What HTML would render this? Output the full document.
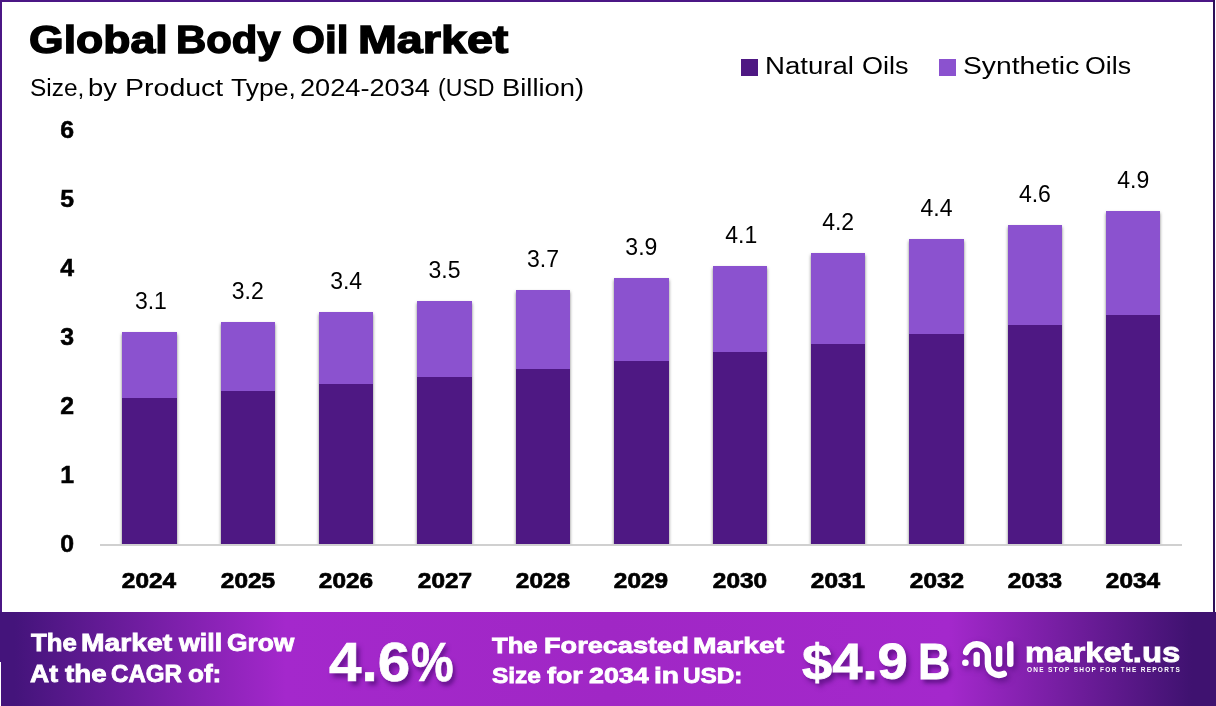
<!DOCTYPE html>
<html><head><meta charset="utf-8"><title>Global Body Oil Market</title>
<style>
html,body{margin:0;padding:0;background:#fff;}
body{width:1216px;height:706px;position:relative;overflow:hidden;font-family:"Liberation Sans",sans-serif;color:#000;}
.abs{position:absolute;white-space:nowrap;line-height:1;transform-origin:0 0;}
.frame{position:absolute;left:0;top:0;width:1213px;height:612px;box-sizing:border-box;border-top:2px solid #4b1785;border-left:2px solid #4b1785;}
.rb{position:absolute;left:1213px;top:0;width:2px;height:612px;background:#2e1058;}
.b{font-weight:bold;}
.yl{width:40px;text-align:right;left:34px;font-weight:bold;font-size:23px;-webkit-text-stroke:0.5px #000;transform-origin:100% 0;transform:scaleX(1.08);}
.xl{width:80px;text-align:center;font-weight:bold;font-size:22.5px;-webkit-text-stroke:0.7px #000;transform-origin:50% 0;transform:scaleX(1.085);}
.dl{width:80px;text-align:center;font-size:23px;transform-origin:50% 0;}
.bar{position:absolute;width:54.4px;box-shadow:0 2px 3px rgba(0,0,0,.5);}
.d{background:#4e1883;}
.l{background:#8b52cf;}
.axis{position:absolute;left:100px;top:544px;width:1082px;height:2px;background:#d0d0d0;}
.lg{position:absolute;width:17px;height:17px;top:59px;}
.banner{position:absolute;left:0;top:612px;width:1216px;height:94px;background:linear-gradient(90deg,#44147b 0%,#44147b 1.2%,#a428cc 23.5%,#a027c5 50%,#a428cc 78%,#3f1270 98%,#3f1270 100%);}
.w{color:#fff;font-weight:bold;}
.big{color:#fff;font-weight:bold;text-shadow:3px 4px 5px rgba(50,0,90,.6);}
</style></head><body>
<div class="frame"></div><div class="rb"></div>
<div class="abs b" id="title_0" style="left:29.37px;top:19.85px;font-size:39.4px;transform:scaleX(1.1307);-webkit-text-stroke:1.4px currentColor;">Global</div>
<div class="abs b" id="title_1" style="left:175.76px;top:19.85px;font-size:39.4px;transform:scaleX(1.0624);-webkit-text-stroke:1.4px currentColor;">Body</div>
<div class="abs b" id="title_2" style="left:291.94px;top:19.85px;font-size:39.4px;transform:scaleX(1.0751);-webkit-text-stroke:1.4px currentColor;">Oil</div>
<div class="abs b" id="title_3" style="left:357.83px;top:19.85px;font-size:39.4px;transform:scaleX(1.1840);-webkit-text-stroke:1.4px currentColor;">Market</div>
<div class="abs " id="sub_0" style="left:29.71px;top:76.73px;font-size:23px;transform:scaleX(1.0639);">Size,</div>
<div class="abs " id="sub_1" style="left:87.65px;top:76.73px;font-size:23px;transform:scaleX(1.1883);">by</div>
<div class="abs " id="sub_2" style="left:124.76px;top:76.73px;font-size:23px;transform:scaleX(1.2400);">Product</div>
<div class="abs " id="sub_3" style="left:230.89px;top:76.73px;font-size:23px;transform:scaleX(1.1551);">Type,</div>
<div class="abs " id="sub_4" style="left:299.71px;top:76.73px;font-size:23px;transform:scaleX(1.1807);">2024-2034</div>
<div class="abs " id="sub_5" style="left:437.95px;top:76.73px;font-size:23px;transform:scaleX(1.0062);">(USD</div>
<div class="abs " id="sub_6" style="left:501.55px;top:76.73px;font-size:23px;transform:scaleX(1.1907);">Billion)</div>
<div class="lg d" style="left:741px"></div>
<div class="abs " id="lt1_0" style="left:765.43px;top:54.91px;font-size:23.5px;transform:scaleX(1.1739);">Natural</div>
<div class="abs " id="lt1_1" style="left:862.48px;top:54.91px;font-size:23.5px;transform:scaleX(1.1499);">Oils</div>
<div class="lg l" style="left:939px"></div>
<div class="abs " id="lt2_0" style="left:963.20px;top:54.91px;font-size:23.5px;transform:scaleX(1.2030);">Synthetic</div>
<div class="abs " id="lt2_1" style="left:1084.78px;top:54.91px;font-size:23.5px;transform:scaleX(1.1370);">Oils</div>
<div class="abs yl" style="top:532.73px">0</div>
<div class="abs yl" style="top:463.83px">1</div>
<div class="abs yl" style="top:394.93px">2</div>
<div class="abs yl" style="top:326.03px">3</div>
<div class="abs yl" style="top:257.13px">4</div>
<div class="abs yl" style="top:188.23px">5</div>
<div class="abs yl" style="top:119.33px">6</div>
<div style="position:absolute;left:0;top:0;width:1213px;height:544px;overflow:hidden">
<div class="bar" style="left:122.20px;top:332px;height:218px"><div class="l" style="height:66px"></div><div class="d" style="height:152px"></div></div>
<div class="bar" style="left:220.59px;top:322px;height:228px"><div class="l" style="height:69px"></div><div class="d" style="height:159px"></div></div>
<div class="bar" style="left:318.98px;top:312px;height:238px"><div class="l" style="height:72px"></div><div class="d" style="height:166px"></div></div>
<div class="bar" style="left:417.37px;top:301px;height:249px"><div class="l" style="height:76px"></div><div class="d" style="height:173px"></div></div>
<div class="bar" style="left:515.76px;top:290px;height:260px"><div class="l" style="height:79px"></div><div class="d" style="height:181px"></div></div>
<div class="bar" style="left:614.15px;top:278px;height:272px"><div class="l" style="height:83px"></div><div class="d" style="height:189px"></div></div>
<div class="bar" style="left:712.54px;top:266px;height:284px"><div class="l" style="height:86px"></div><div class="d" style="height:198px"></div></div>
<div class="bar" style="left:810.93px;top:253px;height:297px"><div class="l" style="height:91px"></div><div class="d" style="height:206px"></div></div>
<div class="bar" style="left:909.32px;top:239px;height:311px"><div class="l" style="height:95px"></div><div class="d" style="height:216px"></div></div>
<div class="bar" style="left:1007.71px;top:225px;height:325px"><div class="l" style="height:100px"></div><div class="d" style="height:225px"></div></div>
<div class="bar" style="left:1106.10px;top:211px;height:339px"><div class="l" style="height:104px"></div><div class="d" style="height:235px"></div></div>
</div>
<div class="axis"></div>
<div class="abs dl" style="left:110.90px;top:289.53px">3.1</div>
<div class="abs xl" style="left:109.40px;top:569.75px">2024</div>
<div class="abs dl" style="left:207.79px;top:279.53px">3.2</div>
<div class="abs xl" style="left:207.79px;top:569.75px">2025</div>
<div class="abs dl" style="left:306.18px;top:269.53px">3.4</div>
<div class="abs xl" style="left:306.18px;top:569.75px">2026</div>
<div class="abs dl" style="left:404.57px;top:258.53px">3.5</div>
<div class="abs xl" style="left:404.57px;top:569.75px">2027</div>
<div class="abs dl" style="left:502.96px;top:247.53px">3.7</div>
<div class="abs xl" style="left:502.96px;top:569.75px">2028</div>
<div class="abs dl" style="left:601.35px;top:235.53px">3.9</div>
<div class="abs xl" style="left:601.35px;top:569.75px">2029</div>
<div class="abs dl" style="left:701.24px;top:223.53px">4.1</div>
<div class="abs xl" style="left:699.74px;top:569.75px">2030</div>
<div class="abs dl" style="left:798.13px;top:210.53px">4.2</div>
<div class="abs xl" style="left:798.13px;top:569.75px">2031</div>
<div class="abs dl" style="left:896.52px;top:196.53px">4.4</div>
<div class="abs xl" style="left:896.52px;top:569.75px">2032</div>
<div class="abs dl" style="left:994.91px;top:182.53px">4.6</div>
<div class="abs xl" style="left:994.91px;top:569.75px">2033</div>
<div class="abs dl" style="left:1093.30px;top:168.53px">4.9</div>
<div class="abs xl" style="left:1093.30px;top:569.75px">2034</div>
<div class="banner"></div>
<div style="position:absolute;left:0;top:662px;width:1px;height:44px;background:#fff"></div>
<div class="abs w" id="b1_0" style="left:30.75px;top:632.03px;font-size:23px;transform:scaleX(1.1179);-webkit-text-stroke:0.8px currentColor;">The</div>
<div class="abs w" id="b1_1" style="left:81.19px;top:632.03px;font-size:23px;transform:scaleX(1.2287);-webkit-text-stroke:0.8px currentColor;">Market</div>
<div class="abs w" id="b1_2" style="left:178.52px;top:632.03px;font-size:23px;transform:scaleX(1.1649);-webkit-text-stroke:0.8px currentColor;">will</div>
<div class="abs w" id="b1_3" style="left:226.75px;top:632.03px;font-size:23px;transform:scaleX(1.1453);-webkit-text-stroke:0.8px currentColor;">Grow</div>
<div class="abs w" id="b2_0" style="left:29.50px;top:662.73px;font-size:23px;transform:scaleX(1.1527);-webkit-text-stroke:0.8px currentColor;">At</div>
<div class="abs w" id="b2_1" style="left:64.77px;top:662.73px;font-size:23px;transform:scaleX(1.2035);-webkit-text-stroke:0.8px currentColor;">the</div>
<div class="abs w" id="b2_2" style="left:111.24px;top:662.73px;font-size:23px;transform:scaleX(1.0482);-webkit-text-stroke:0.8px currentColor;">CAGR</div>
<div class="abs w" id="b2_3" style="left:188.47px;top:662.73px;font-size:23px;transform:scaleX(1.1341);-webkit-text-stroke:0.8px currentColor;">of:</div>
<div class="abs big" id="cagr" style="left:328.68px;top:634.64px;font-size:55px;transform:scaleX(1.0615);-webkit-text-stroke:0.7px currentColor;">4.6</div>
<div class="abs big" id="pct" style="left:411.17px;top:634.64px;font-size:55px;transform:scaleX(0.8715);-webkit-text-stroke:0.7px currentColor;">%</div>
<div class="abs w" id="b3_0" style="left:492.21px;top:634.95px;font-size:22.5px;transform:scaleX(1.1407);-webkit-text-stroke:0.8px currentColor;">The</div>
<div class="abs w" id="b3_1" style="left:544.05px;top:634.95px;font-size:22.5px;transform:scaleX(1.2054);-webkit-text-stroke:0.8px currentColor;">Forecasted</div>
<div class="abs w" id="b3_2" style="left:693.33px;top:634.95px;font-size:22.5px;transform:scaleX(1.2563);-webkit-text-stroke:0.8px currentColor;">Market</div>
<div class="abs w" id="b4_0" style="left:491.66px;top:665.25px;font-size:22.5px;transform:scaleX(1.0871);-webkit-text-stroke:0.8px currentColor;">Size</div>
<div class="abs w" id="b4_1" style="left:546.96px;top:665.25px;font-size:22.5px;transform:scaleX(1.1901);-webkit-text-stroke:0.8px currentColor;">for</div>
<div class="abs w" id="b4_2" style="left:588.91px;top:665.25px;font-size:22.5px;transform:scaleX(1.1936);-webkit-text-stroke:0.8px currentColor;">2034</div>
<div class="abs w" id="b4_3" style="left:653.66px;top:665.25px;font-size:22.5px;transform:scaleX(1.2542);-webkit-text-stroke:0.8px currentColor;">in</div>
<div class="abs w" id="b4_4" style="left:682.52px;top:665.25px;font-size:22.5px;transform:scaleX(1.0809);-webkit-text-stroke:0.8px currentColor;">USD:</div>
<div class="abs big" id="usd" style="left:801.75px;top:637.07px;font-size:50px;transform:scaleX(1.0876);-webkit-text-stroke:0.8px currentColor;">$4.9</div>
<div class="abs big" id="usdb" style="left:917.57px;top:637.07px;font-size:50px;transform:scaleX(0.8946);-webkit-text-stroke:0.8px currentColor;">B</div>
<svg style="position:absolute;left:950px;top:630px;filter:drop-shadow(2px 3px 3px rgba(50,0,90,.55))" width="80" height="60" viewBox="950 630 80 60">
<g fill="none" stroke="#fff" stroke-width="6.4" stroke-linecap="round">
<path d="M966.1 652.1 A11.15 11.15 0 0 1 987.9 655.4 L987.9 663.7 A11.15 11.15 0 0 0 1003.8 673.8"/>
<path d="M976.7 654.9 L976.7 663.8"/>
<path d="M999.1 648.9 L999.1 663.8"/>
<path d="M1010.3 644.2 L1010.3 663.8"/>
</g><circle cx="965.4" cy="662.8" r="3.3" fill="#fff"/></svg>
<div class="abs w" id="mk" style="left:1025.48px;top:639.32px;font-size:27.5px;transform:scaleX(1.1953);-webkit-text-stroke:0.8px currentColor;">market.us</div>
<div class="abs w" id="tag" style="left:1026.81px;top:666.77px;font-size:6.3px;transform:scaleX(1.0293);letter-spacing:1.25px;">ONE STOP SHOP FOR THE REPORTS</div>
</body></html>
